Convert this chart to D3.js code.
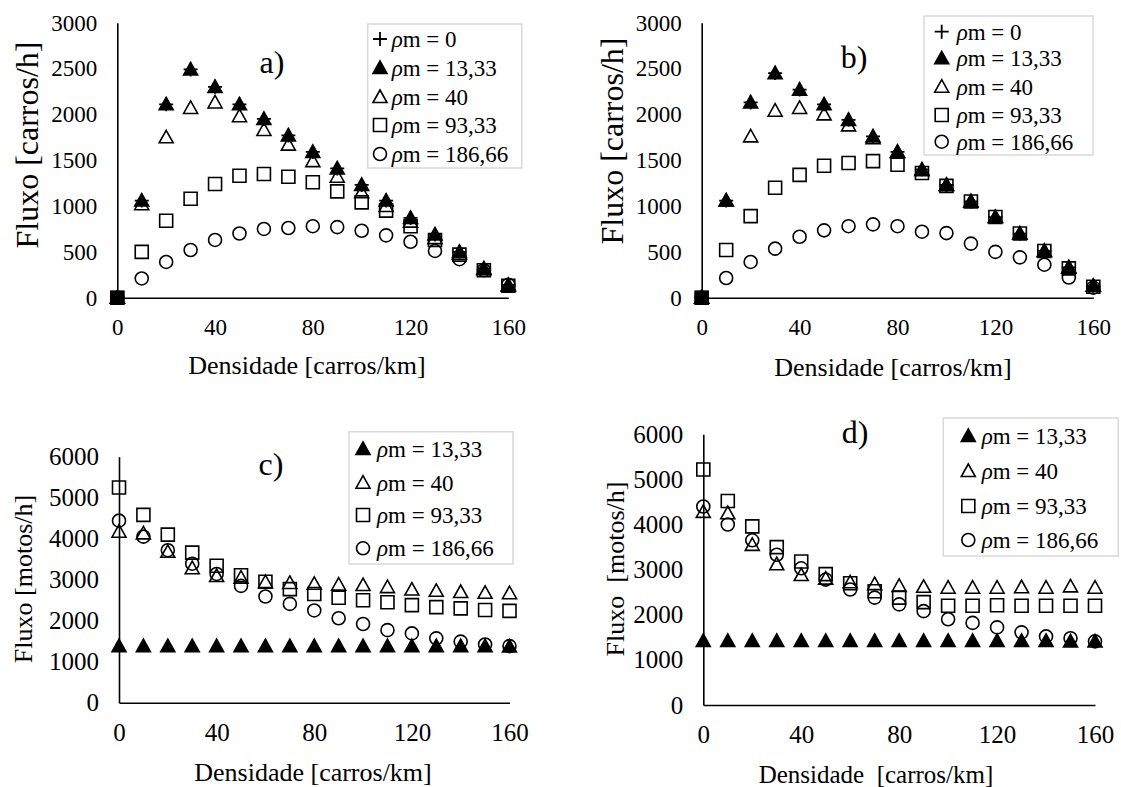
<!DOCTYPE html>
<html>
<head>
<meta charset="utf-8">
<script src="https://cdn.jsdelivr.net/npm/d3@7"></script>
<style>
body { margin: 0; background: #fff; }
text { font-family: "Liberation Serif", "Times New Roman", serif; fill: #000; }
</style>
</head>
<body>
<script>
// x values shared by the four plots
var density = [0, 10, 20, 30, 40, 50, 60, 70, 80, 90, 100, 110, 120, 130, 140, 150, 160];
var xTickLabels = [0, 40, 80, 120, 160];
var yTicksCarros = [0, 500, 1000, 1500, 2000, 2500, 3000];
var yTicksMotos = [0, 1000, 2000, 3000, 4000, 5000, 6000];

// a) car flow
var aRho0   = [0, 1060, 2110, 2490, 2300, 2110, 1950, 1770, 1590, 1410, 1230, 1060, 870, 690, 500, 320, 140];
var aRho13  = [0, 1060, 2110, 2490, 2300, 2110, 1950, 1770, 1590, 1410, 1230, 1060, 870, 690, 500, 320, 140];
var aRho40  = [0, 1020, 1750, 2070, 2130, 1980, 1830, 1670, 1490, 1320, 1150, 1000, 830, 650, 480, 310, 130];
var aRho93  = [0, 500, 840, 1080, 1240, 1330, 1350, 1320, 1260, 1160, 1040, 950, 780, 630, 470, 300, 130];
var aRho186 = [0, 210, 390, 520, 630, 700, 750, 760, 780, 770, 730, 680, 610, 510, 420, 300, 140];

// b) car flow
var bRho0   = [0, 1060, 2130, 2450, 2270, 2110, 1940, 1760, 1590, 1400, 1230, 1050, 880, 700, 510, 330, 130];
var bRho13  = [0, 1060, 2130, 2450, 2270, 2110, 1940, 1760, 1590, 1400, 1230, 1050, 880, 700, 510, 330, 130];
var bRho40  = [0, 1060, 1760, 2040, 2070, 2000, 1880, 1740, 1590, 1390, 1230, 1050, 880, 700, 510, 330, 130];
var bRho93  = [0, 520, 890, 1200, 1340, 1440, 1470, 1490, 1450, 1360, 1220, 1050, 880, 700, 510, 320, 120];
var bRho186 = [0, 215, 390, 535, 665, 735, 780, 800, 780, 720, 705, 590, 500, 440, 360, 220, 110];

// c) motorcycle flow
var cRho13  = [1380, 1380, 1380, 1380, 1380, 1380, 1380, 1380, 1380, 1380, 1380, 1380, 1380, 1380, 1380, 1380, 1370];
var cRho40  = [4170, 4130, 3680, 3280, 3090, 3050, 2940, 2920, 2900, 2880, 2870, 2820, 2760, 2730, 2700, 2680, 2670];
var cRho93  = [5250, 4580, 4100, 3660, 3340, 3110, 2950, 2770, 2650, 2560, 2500, 2450, 2380, 2330, 2300, 2260, 2240];
var cRho186 = [4440, 4050, 3720, 3390, 3140, 2850, 2590, 2410, 2250, 2060, 1920, 1770, 1690, 1570, 1490, 1420, 1380];

// d) motorcycle flow
var dRho13  = [1420, 1420, 1420, 1420, 1420, 1420, 1420, 1420, 1420, 1420, 1420, 1420, 1420, 1420, 1420, 1410, 1410];
var dRho40  = [4280, 4250, 3550, 3120, 2880, 2800, 2720, 2680, 2640, 2620, 2600, 2600, 2600, 2610, 2600, 2630, 2600];
var dRho93  = [5220, 4520, 3960, 3500, 3180, 2900, 2700, 2520, 2380, 2280, 2200, 2200, 2210, 2200, 2200, 2200, 2200];
var dRho186 = [4400, 4000, 3650, 3330, 3030, 2780, 2560, 2380, 2230, 2080, 1900, 1820, 1720, 1610, 1520, 1480, 1410];

var legendAB = ["0", "13,33", "40", "93,33", "186,66"];
var legendCD = ["13,33", "40", "93,33", "186,66"];

var shapesAB = ["plus", "triFill", "tri", "square", "circle"];
var shapesCD = ["triFill", "tri", "square", "circle"];

var width = 1121, height = 787;
var svg = d3.select("body").append("svg").attr("width", width).attr("height", height);

// marker drawing, returns the element
function marker(g, shape, cx, cy) {
    var m;
    if (shape == "plus") {
        m = g.append("path").attr("d", "M-7,0H7M0,-7V7").attr("stroke", "#000").attr("stroke-width", 1.8).attr("fill", "none");
    } else if (shape == "triFill" || shape == "tri") {
        m = g.append("path").attr("d", "M0,-7L7,5.5L-7,5.5Z")
            .attr("fill", shape == "triFill" ? "#000" : "none").attr("stroke", "#000").attr("stroke-width", 1.6);
    } else if (shape == "square") {
        m = g.append("path").attr("d", "M-6.5,-6.5H6.5V6.5H-6.5Z").attr("fill", "none").attr("stroke", "#000").attr("stroke-width", 1.6);
    } else {
        m = g.append("circle").attr("r", 6.5).attr("fill", "none").attr("stroke", "#000").attr("stroke-width", 1.6);
    }
    m.attr("transform", "translate(" + cx + "," + cy + ")");
    return m;
}

var panels = [
    { tag: "a)", tagPos: [272, 62], series: [aRho0, aRho13, aRho40, aRho93, aRho186], shapes: shapesAB, labels: legendAB,
      yMax: 3000, yTicks: yTicksCarros, yTitle: "Fluxo [carros/h]", xTitle: "Densidade [carros/km]",
      x0: 117.3, x1: 508.3, yTop: 22.7, yBot: 297.7, tickFont: 23, yTitleFont: 32, yTitleX: 27, yTitleY: 145,
      xTitleX: 307, xTitleY: 365, xTitleFont: 26, originBlock: true,
      legend: { x: 367.7, y: 24, w: 154, h: 144, rows: [39, 68, 97, 125, 154], mx: 380, tx: 391.7 } },
    { tag: "b)", tagPos: [854, 57], series: [bRho0, bRho13, bRho40, bRho93, bRho186], shapes: shapesAB, labels: legendAB,
      yMax: 3000, yTicks: yTicksCarros, yTitle: "Fluxo [carros/h]", xTitle: "Densidade [carros/km]",
      x0: 701.7, x1: 1093.3, yTop: 22.7, yBot: 297.7, tickFont: 23, yTitleFont: 32, yTitleX: 612, yTitleY: 141,
      xTitleX: 893, xTitleY: 367, xTitleFont: 26, originBlock: true,
      legend: { x: 924, y: 16, w: 169, h: 139, rows: [31.7, 58.3, 86.7, 115, 141.7], mx: 941.7, tx: 956.7 } },
    { tag: "c)", tagPos: [271, 464], series: [cRho13, cRho40, cRho93, cRho186], shapes: shapesCD, labels: legendCD,
      yMax: 6000, yTicks: yTicksMotos, yTitle: "Fluxo [motos/h]", xTitle: "Densidade [carros/km]",
      x0: 119, x1: 509.5, yTop: 456.7, yBot: 702.7, tickFont: 25, yTitleFont: 26, yTitleX: 23.5, yTitleY: 579,
      xTitleX: 313, xTitleY: 772, xTitleFont: 26, originBlock: false,
      legend: { x: 349, y: 431.7, w: 164, h: 132.3, rows: [449, 482.7, 515, 548.3], mx: 363, tx: 377 } },
    { tag: "d)", tagPos: [855, 432], series: [dRho13, dRho40, dRho93, dRho186], shapes: shapesCD, labels: legendCD,
      yMax: 6000, yTicks: yTicksMotos, yTitle: "Fluxo  [motos/h]", xTitle: "Densidade  [carros/km]",
      x0: 703.3, x1: 1095, yTop: 434.3, yBot: 705, tickFont: 25, yTitleFont: 26, yTitleX: 615, yTitleY: 569,
      xTitleX: 876, xTitleY: 774, xTitleFont: 25, originBlock: false,
      legend: { x: 943.3, y: 418, w: 175, h: 138, rows: [436, 471, 506, 540], mx: 968.3, tx: 981.7 } }
];

panels.forEach(function (p) {
    var g = svg.append("g");
    var x = d3.scaleLinear().domain([0, 160]).range([p.x0, p.x1]);
    var y = d3.scaleLinear().domain([0, p.yMax]).range([p.yBot, p.yTop]);

    // axes, no tick marks, only the line and the labels
    var yAxis = g.append("g").attr("transform", "translate(" + p.x0 + ",0)")
        .call(d3.axisLeft(y).tickValues(p.yTicks).tickSize(0).tickPadding(20).tickFormat(d3.format("d")));
    var xAxis = g.append("g").attr("transform", "translate(0," + p.yBot + ")")
        .call(d3.axisBottom(x).tickValues(xTickLabels).tickSize(0).tickPadding(20).tickFormat(d3.format("d")));
    [xAxis, yAxis].forEach(function (a) {
        a.select(".domain").attr("stroke", "#000").attr("stroke-width", 1.6);
        a.selectAll("text").style("font-size", p.tickFont + "px").style("font-family", "Liberation Serif").attr("fill", "#000");
    });
    xAxis.selectAll("text").attr("dy", "0.32em").attr("y", 30);
    yAxis.selectAll("text").attr("dy", "0.32em");

    // titles
    g.append("text").attr("transform", "translate(" + p.yTitleX + "," + p.yTitleY + ") rotate(-90)")
        .attr("text-anchor", "middle").attr("dominant-baseline", "central")
        .style("font-size", p.yTitleFont + "px").style("white-space", "pre").text(p.yTitle);
    g.append("text").attr("x", p.xTitleX).attr("y", p.xTitleY)
        .attr("text-anchor", "middle").attr("dominant-baseline", "central")
        .style("font-size", p.xTitleFont + "px").style("white-space", "pre").text(p.xTitle);
    g.append("text").attr("x", p.tagPos[0]).attr("y", p.tagPos[1])
        .attr("text-anchor", "middle").attr("dominant-baseline", "central")
        .style("font-size", "32px").text(p.tag);

    // points, series drawn in legend order
    p.series.forEach(function (vals, si) {
        var sg = g.append("g");
        vals.forEach(function (v, i) {
            marker(sg, p.shapes[si], x(density[i]), y(v));
        });
    });
    if (p.originBlock) {
        g.append("rect").attr("x", x(0) - 7).attr("y", y(0) - 7).attr("width", 14).attr("height", 14).attr("fill", "#000");
    }

    // legend
    var L = p.legend;
    var lg = g.append("g");
    lg.append("rect").attr("x", L.x).attr("y", L.y).attr("width", L.w).attr("height", L.h)
        .attr("fill", "#fff").attr("stroke", "#d9d9d9").attr("stroke-width", 1.5);
    p.labels.forEach(function (lab, i) {
        marker(lg, p.shapes[i], L.mx, L.rows[i]);
        var t = lg.append("text").attr("x", L.tx).attr("y", L.rows[i]).attr("dominant-baseline", "central")
            .style("font-size", "23px");
        t.append("tspan").style("font-style", "italic").text("ρ");
        t.append("tspan").text("m = " + lab);
    });
});
</script>
</body>
</html>
